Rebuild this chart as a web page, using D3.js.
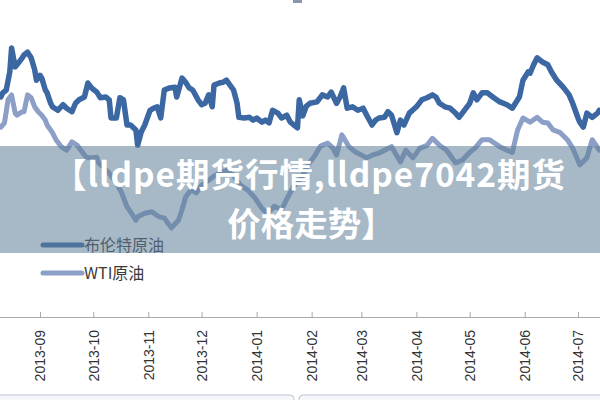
<!DOCTYPE html>
<html>
<head>
<meta charset="utf-8">
<script src="https://cdn.jsdelivr.net/npm/d3@7"></script>
<style>
  html, body { margin: 0; padding: 0; background: #fff; }
  svg { display: block; }
</style>
</head>
<body>
<div id="chart"></div>
<script>
// Données (date, prix en $)
const brent = [
  ["2013-08-10",110.0],["2013-08-11",110.6],["2013-08-13",111.0],["2013-08-15",113.6],["2013-08-16",117.0],
  ["2013-08-18",114.3],["2013-08-19",114.6],["2013-08-22",115.6],["2013-08-23",116.0],["2013-08-25",116.4],
  ["2013-08-27",115.6],["2013-08-29",113.9],["2013-08-30",112.4],["2013-09-01",113.1],["2013-09-02",112.7],
  ["2013-09-04",111.0],["2013-09-05",110.6],["2013-09-07",109.1],["2013-09-08",108.6],["2013-09-11",108.1],
  ["2013-09-14",108.9],["2013-09-16",108.4],["2013-09-19",107.9],["2013-09-21",109.1],["2013-09-23",109.6],
  ["2013-09-26",110.0],["2013-09-28",112.0],["2013-09-30",111.3],["2013-10-03",110.7],["2013-10-05",109.9],
  ["2013-10-08",110.0],["2013-10-10",109.6],["2013-10-11",107.0],["2013-10-14",107.0],["2013-10-16",109.9],
  ["2013-10-18",109.6],["2013-10-20",106.0],["2013-10-22",106.0],["2013-10-25",105.3],["2013-10-26",103.1],
  ["2013-10-28",105.0],["2013-10-30",106.0],["2013-11-02",108.1],["2013-11-04",108.4],["2013-11-06",108.6],
  ["2013-11-08",107.0],["2013-11-10",111.0],["2013-11-13",111.3],["2013-11-16",111.4],["2013-11-17",110.0],
  ["2013-11-20",112.7],["2013-11-22",112.1],["2013-11-24",111.3],["2013-11-26",111.0],["2013-11-29",109.6],
  ["2013-12-01",108.9],["2013-12-03",109.1],["2013-12-05",110.3],["2013-12-07",108.6],["2013-12-08",111.7],
  ["2013-12-11",112.0],["2013-12-13",112.1],["2013-12-15",112.4],["2013-12-17",111.7],["2013-12-19",111.0],
  ["2013-12-21",109.1],["2013-12-22",107.1],["2013-12-25",107.0],["2013-12-28",107.1],["2013-12-30",106.7],
  ["2014-01-01",107.0],["2014-01-04",106.4],["2014-01-06",106.7],["2014-01-08",106.3],["2014-01-10",108.1],
  ["2014-01-13",107.7],["2014-01-15",107.0],["2014-01-18",107.4],["2014-01-20",106.4],["2014-01-22",106.0],
  ["2014-01-24",105.6],["2014-01-25",109.6],["2014-01-27",107.3],["2014-01-29",108.7],["2014-01-31",109.1],
  ["2014-02-04",109.3],["2014-02-07",110.3],["2014-02-10",110.0],["2014-02-12",110.7],["2014-02-15",109.1],
  ["2014-02-17",110.0],["2014-02-19",111.3],["2014-02-21",108.4],["2014-02-24",108.6],["2014-02-27",108.1],
  ["2014-03-02",108.4],["2014-03-04",107.4],["2014-03-07",106.0],["2014-03-09",106.7],["2014-03-11",107.0],
  ["2014-03-14",107.1],["2014-03-16",107.9],["2014-03-18",107.4],["2014-03-21",104.9],["2014-03-23",106.7],
  ["2014-03-25",106.0],["2014-03-28",107.7],["2014-04-01",108.6],["2014-04-04",109.6],["2014-04-07",109.9],
  ["2014-04-10",110.3],["2014-04-12",110.0],["2014-04-14",109.1],["2014-04-17",108.6],["2014-04-20",108.4],
  ["2014-04-23",107.7],["2014-04-25",107.1],["2014-04-28",108.1],["2014-05-01",109.1],["2014-05-03",110.6],
  ["2014-05-05",109.6],["2014-05-08",110.6],["2014-05-11",110.6],["2014-05-14",110.0],["2014-05-18",109.3],
  ["2014-05-22",108.9],["2014-05-25",108.4],["2014-05-28",109.6],["2014-05-29",110.0],["2014-05-31",112.4],
  ["2014-06-03",113.6],["2014-06-04",113.4],["2014-06-06",114.6],["2014-06-08",115.6],["2014-06-11",115.0],
  ["2014-06-14",114.6],["2014-06-16",113.6],["2014-06-19",112.4],["2014-06-23",111.3],["2014-06-26",110.3],
  ["2014-06-28",109.1],["2014-07-01",107.0],["2014-07-02",106.4],["2014-07-04",105.7],["2014-07-06",107.7],
  ["2014-07-09",107.1],["2014-07-12",107.7],["2014-07-13",108.1]
];

const wti = [
  ["2013-08-10",105.7],["2013-08-12",106.3],["2013-08-14",109.6],["2013-08-16",110.3],["2013-08-18",107.7],
  ["2013-08-19",107.4],["2013-08-22",107.9],["2013-08-23",107.9],["2013-08-25",110.3],["2013-08-27",109.9],
  ["2013-08-29",108.6],["2013-08-31",107.9],["2013-09-02",107.4],["2013-09-04",106.7],["2013-09-05",106.0],
  ["2013-09-08",104.9],["2013-09-10",103.9],["2013-09-13",102.9],["2013-09-16",102.4],["2013-09-19",103.6],
  ["2013-09-22",103.1],["2013-09-24",102.4],["2013-09-27",101.4],["2013-09-30",101.3],["2013-10-03",101.4],
  ["2013-10-04",100.6],["2013-10-07",99.9],["2013-10-10",99.1],["2013-10-14",97.7],["2013-10-17",96.3],
  ["2013-10-20",94.3],["2013-10-22",93.6],["2013-10-25",92.4],["2013-10-26",92.9],["2013-10-30",93.4],
  ["2013-11-03",93.6],["2013-11-07",92.9],["2013-11-10",92.7],["2013-11-14",91.3],["2013-11-18",92.4],
  ["2013-11-20",93.9],["2013-11-22",95.7],["2013-11-25",96.7],["2013-11-28",96.3],["2013-12-01",97.4],
  ["2013-12-05",98.1],["2013-12-08",98.7],["2013-12-12",99.3],["2013-12-17",99.6],["2013-12-20",98.4],
  ["2013-12-23",97.4],["2013-12-27",96.7],["2013-12-31",95.6],["2014-01-04",94.1],["2014-01-07",93.3],
  ["2014-01-11",94.4],["2014-01-15",93.9],["2014-01-19",95.9],["2014-01-22",97.3],["2014-01-26",98.4],
  ["2014-01-30",100.3],["2014-02-03",101.7],["2014-02-06",103.0],["2014-02-10",103.4],["2014-02-13",102.7],
  ["2014-02-15",101.7],["2014-02-18",104.6],["2014-02-22",102.9],["2014-02-26",102.1],["2014-03-04",101.3],
  ["2014-03-07",101.7],["2014-03-11",102.0],["2014-03-18",102.9],["2014-03-23",100.7],["2014-03-26",102.4],
  ["2014-03-30",101.3],["2014-04-03",102.7],["2014-04-07",103.1],["2014-04-10",104.1],["2014-04-14",103.1],
  ["2014-04-18",102.4],["2014-04-23",100.6],["2014-04-27",101.0],["2014-05-01",102.1],["2014-05-04",102.7],
  ["2014-05-08",103.9],["2014-05-12",103.9],["2014-05-18",102.9],["2014-05-22",102.4],["2014-05-25",102.1],
  ["2014-05-28",105.3],["2014-05-31",107.0],["2014-06-04",106.4],["2014-06-08",107.1],["2014-06-11",106.4],
  ["2014-06-14",106.3],["2014-06-17",105.3],["2014-06-21",104.9],["2014-06-25",103.9],["2014-06-28",102.7],
  ["2014-07-02",100.3],["2014-07-06",101.3],["2014-07-09",103.9],["2014-07-13",102.4]
];

const seriesNames = ["布伦特原油", "WTI原油"];
const tickMonths = ["2013-09","2013-10","2013-11","2013-12","2014-01","2014-02","2014-03","2014-04","2014-05","2014-06","2014-07"];
const titleLines = ["【lldpe期货行情,lldpe7042期货", "价格走势】"];

const W = 600, H = 400;
const parseDay = d3.timeParse("%Y-%m-%d");
const parseMonth = d3.timeParse("%Y-%m");

const svg = d3.select("#chart").append("svg")
  .attr("width", W).attr("height", H);

const x = d3.scaleTime()
  .domain([parseMonth("2013-09"), parseMonth("2014-07")])
  .range([40, 578]);
const y = d3.scaleLinear()
  .domain([90, 125])
  .range([237, -8]);

const line = d3.line()
  .x(d => x(parseDay(d[0])))
  .y(d => y(d[1]));

const colors = ["#3b67a2", "#8c9fc6"];

// petit repère en haut
svg.append("rect").attr("x", 293).attr("y", 0).attr("width", 9).attr("height", 3)
  .attr("fill", "#8a97a8");

// courbes
svg.append("path").datum(wti)
  .attr("d", line).attr("fill", "none")
  .attr("stroke", colors[1]).attr("stroke-width", 5)
  .attr("stroke-linejoin", "round").attr("stroke-linecap", "round");
svg.append("path").datum(brent)
  .attr("d", line).attr("fill", "none")
  .attr("stroke", colors[0]).attr("stroke-width", 5.5)
  .attr("stroke-linejoin", "round").attr("stroke-linecap", "round");

// légende
const legend = svg.append("g").attr("transform", "translate(43,245)");
seriesNames.forEach(function(name, i) {
  const row = legend.append("g").attr("transform", "translate(0," + (i * 28) + ")");
  row.append("line").attr("x1", 0).attr("x2", 39).attr("y1", 0).attr("y2", 0)
    .attr("stroke", colors[i]).attr("stroke-width", 5).attr("stroke-linecap", "round");
  row.append("text").attr("x", 41).attr("y", 6)
    .style("font-family", "'Noto Sans CJK SC', sans-serif")
    .style("font-size", "16px")
    .attr("fill", "#3a3a3a")
    .text(name);
});

// axe des x
const xAxis = svg.append("g")
  .attr("transform", "translate(0,317)")
  .call(d3.axisBottom(x)
    .tickValues(tickMonths.map(parseMonth))
    .tickFormat(d3.timeFormat("%Y-%m"))
    .tickSizeInner(-5).tickSizeOuter(0));
xAxis.select(".domain").attr("stroke", "#aaa").attr("d", "M-10,0.5H610");
xAxis.selectAll(".tick line").attr("stroke", "#aaa");
xAxis.selectAll(".tick text")
  .attr("transform", "rotate(-90)")
  .attr("x", -13).attr("y", 0).attr("dy", "0.35em")
  .style("text-anchor", "end")
  .style("font-family", "'Liberation Sans', Arial, sans-serif")
  .style("font-size", "14px")
  .attr("fill", "#333");

// cadres du bas
svg.append("rect").attr("x", -6).attr("y", 395).attr("width", 300).attr("height", 20).attr("rx", 4)
  .attr("fill", "#f5f7fa").attr("stroke", "#b9c6d3");
svg.append("rect").attr("x", 299).attr("y", 395).attr("width", 310).attr("height", 20).attr("rx", 4)
  .attr("fill", "#f5f7fa").attr("stroke", "#b9c6d3");

// bandeau du titre
svg.append("rect").attr("x", 0).attr("y", 146).attr("width", W).attr("height", 107)
  .attr("fill", "rgba(95,125,152,0.55)");

// titre sur deux lignes
svg.selectAll(".title").data(titleLines).enter()
  .append("text").attr("class", "title")
  .attr("x", (d, i) => i === 0 ? 309 : 311)
  .attr("y", (d, i) => i === 0 ? 187 : 236)
  .attr("textLength", (d, i) => i === 0 ? 512 : null)
  .attr("lengthAdjust", "spacing")
  .style("text-anchor", "middle")
  .style("font-family", "'Noto Sans CJK SC', sans-serif")
  .style("font-weight", "bold")
  .style("font-size", "33.5px")
  .attr("fill", "#fff")
  .text(d => d);
</script>
</body>
</html>
